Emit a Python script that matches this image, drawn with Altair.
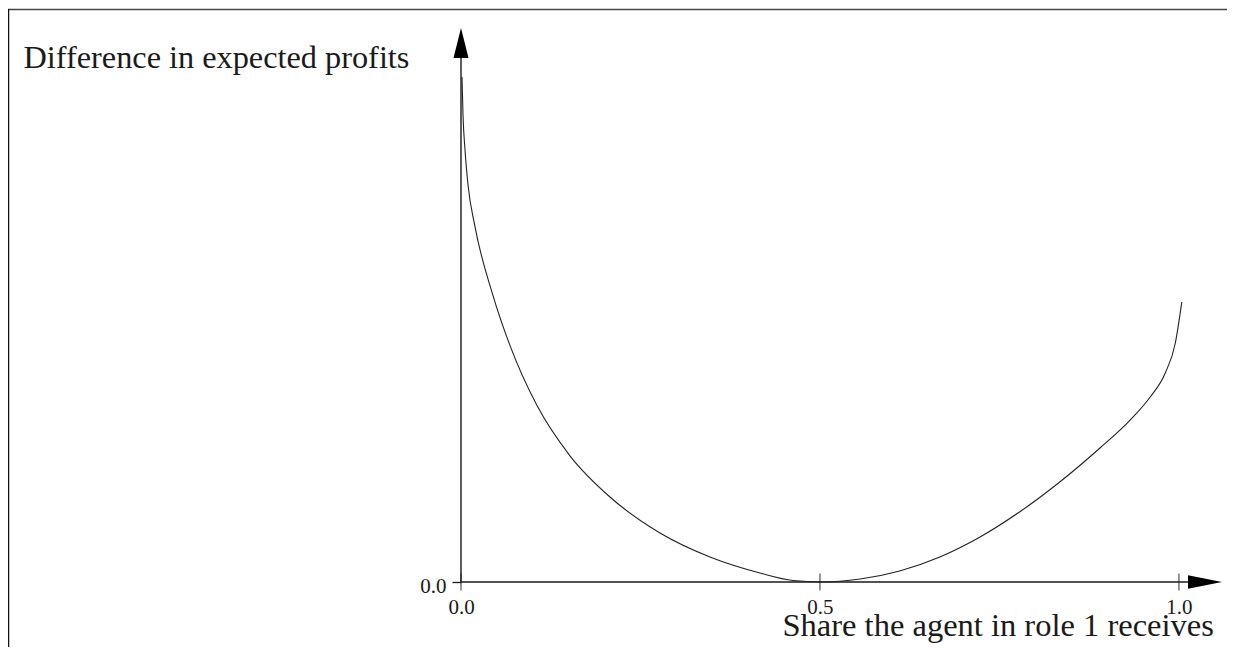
import altair as alt
import pandas as pd

# Curve: share of role 1 (x) vs difference in expected profits (y, arbitrary units)
share = [0.0014, 0.0028, 0.0056, 0.0098, 0.0195, 0.0446, 0.0683, 0.1059, 0.1518, 0.2075,
         0.2772, 0.3468, 0.4165, 0.4625, 0.5028,
         0.556, 0.611, 0.667, 0.723, 0.778, 0.834, 0.890, 0.932, 0.960, 0.981, 0.995, 1.004]
diff = [0.9116, 0.8430, 0.7798, 0.7166, 0.6415, 0.5170, 0.4267, 0.3184, 0.2278, 0.1534,
        0.0884, 0.0451, 0.0162, 0.0027, 0.0000,
        0.0054, 0.0199, 0.0451, 0.0812, 0.1264, 0.1805, 0.2419, 0.2924, 0.3339, 0.3773,
        0.4314, 0.5054]

x_ticks = [0.0, 0.5, 1.0]
y_ticks = [0.0]
x_title = "Share the agent in role 1 receives"
y_title = "Difference in expected profits"

FONT = "Liberation Serif"
INK = "#1a1a1a"

X_MAX = 1.06      # x-axis arrow tip
X_LINE_END = 1.0125
Y_MAX = 1.0       # y-axis arrow tip
Y_LINE_END = 0.946

curve_df = pd.DataFrame({"share": share, "diff": diff})
ticks_df = pd.DataFrame({"t": x_ticks})

xs = alt.Scale(domain=[0, X_MAX], nice=False, zero=False)
ys = alt.Scale(domain=[0, Y_MAX], nice=False, zero=False)

x_axis = alt.Axis(
    values=x_ticks, format=".1f", domain=False, ticks=False, grid=False,
    labelFont=FONT, labelFontSize=21, labelColor=INK, labelPadding=14, labelFlush=False,
    title=x_title, titleFont=FONT, titleFontSize=32.5, titleFontWeight="normal", titleColor=INK,
    titleX=321, titleY=53, titleAlign="left", titleBaseline="alphabetic", titleAngle=0,
)
y_axis = alt.Axis(
    values=y_ticks, format=".1f", domain=False, ticks=True, tickSize=9, tickColor=INK,
    tickWidth=1.3, grid=False,
    labelFont=FONT, labelFontSize=21, labelColor=INK, labelPadding=6, labelBaseline="middle",
    labelOffset=4,
    title=y_title, titleFont=FONT, titleFontSize=32.3, titleFontWeight="normal", titleColor=INK,
    titleX=-438, titleY=39, titleAlign="left", titleBaseline="alphabetic", titleAngle=0,
)

base = alt.Chart(curve_df)

curve = base.mark_line(color="#222222", strokeWidth=1.1, interpolate="monotone").encode(
    x=alt.X("share:Q", scale=xs, axis=x_axis),
    y=alt.Y("diff:Q", scale=ys, axis=y_axis),
)

x_line = alt.Chart(pd.DataFrame({"a": [0]})).mark_rule(color=INK, strokeWidth=1.4).encode(
    x=alt.datum(0, scale=xs), x2=alt.datum(X_LINE_END), y=alt.datum(0, scale=ys)
)
y_line = alt.Chart(pd.DataFrame({"a": [0]})).mark_rule(color=INK, strokeWidth=1.4).encode(
    x=alt.datum(0, scale=xs), y=alt.datum(0, scale=ys), y2=alt.datum(Y_LINE_END)
)

x_arrow = alt.Chart(pd.DataFrame({"a": [0]})).mark_point(
    shape="M0,0 L-2,-0.4 L-2,0.4 Z", size=1156, filled=True, color="#000000", opacity=1
).encode(x=alt.datum(X_MAX, scale=xs), y=alt.datum(0, scale=ys))

y_arrow = alt.Chart(pd.DataFrame({"a": [0]})).mark_point(
    shape="M0,0 L-0.5,2 L0.5,2 Z", size=900, filled=True, color="#000000", opacity=1
).encode(x=alt.datum(0, scale=xs), y=alt.datum(Y_MAX, scale=ys))

x_tick_marks = alt.Chart(ticks_df).mark_tick(
    color=INK, orient="vertical", size=17, thickness=1.3
).encode(x=alt.X("t:Q", scale=xs), y=alt.datum(0, scale=ys))

frame_top = alt.Chart(pd.DataFrame({"a": [0]})).mark_rule(color="#444444", strokeWidth=1.5).encode(
    x=alt.value(-453), x2=alt.value(800), y=alt.value(-18.5)
)
frame_left = alt.Chart(pd.DataFrame({"a": [0]})).mark_rule(color="#111111", strokeWidth=1.5).encode(
    x=alt.value(-452.5), y=alt.value(-19), y2=alt.value(640)
)

chart = alt.layer(
    frame_top, frame_left, x_line, y_line, x_tick_marks, x_arrow, y_arrow, curve
).properties(
    width=761, height=554,
    autosize=alt.AutoSizeParams(type="none"),
    padding={"left": 453, "top": 20, "right": 5, "bottom": 65},
    background="white",
).configure_view(stroke="transparent")

chart.save("out.html", embed_options={"renderer": "svg", "actions": False})
